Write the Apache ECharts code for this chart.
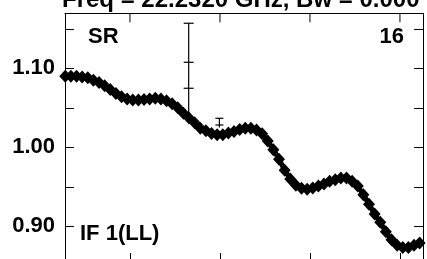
<!DOCTYPE html>
<html>
<head>
<meta charset="utf-8">
<script src="https://cdn.jsdelivr.net/npm/echarts@6.0.0/dist/echarts.min.js"></script>
<style>
  html, body { margin: 0; padding: 0; background: #fff; overflow: hidden; }
  #chart { width: 427px; height: 280px; }
</style>
</head>
<body>
<div id="chart"></div>
<script type="text/javascript">
// channel numbers and amplitude values
var channels = [];
for (var c = 1; c <= 64; c++) channels.push(c);
var amp = [
  1.090, 1.090, 1.090, 1.089, 1.088, 1.085, 1.082, 1.078, 1.073, 1.068,
  1.064, 1.061, 1.060, 1.060, 1.0605, 1.061, 1.062, 1.061, 1.059, 1.055,
  1.050, 1.043, 1.037, 1.031, 1.024, 1.021, 1.0175, 1.016, 1.016, 1.018,
  1.020, 1.0225, 1.024, 1.024, 1.022, 1.017, 1.008, 0.997, 0.985, 0.971,
  0.960, 0.952, 0.948, 0.947, 0.9485, 0.951, 0.9535, 0.957, 0.959, 0.961,
  0.961, 0.957, 0.951, 0.940, 0.928, 0.9155, 0.905, 0.893, 0.883, 0.876,
  0.873, 0.873, 0.876, 0.879
];
// error bars: channel, top, bottom, extra cross marks
var errX = [22.94, 28.4];
var errTop = [1.157, 1.0367];
var errBottom = [1.040, 1.025];
var errCross = [[1.1076, 1.0747], [1.0282]];

var yTicks = [0.90, 0.95, 1.00, 1.05, 1.10, 1.15];
var yLabels = [0.90, 1.00, 1.10];
var xTicks = [12.5, 28.5, 44.5, 60.5];

var myChart = echarts.init(document.getElementById('chart'));

var seriesData = [];
for (var i = 0; i < channels.length; i++) seriesData.push([channels[i], amp[i]]);
var errData = [];
for (var j = 0; j < errX.length; j++) errData.push([errX[j], errBottom[j], errTop[j]]);
var topTickData = xTicks.map(function (v) { return [v]; });

var FONT = 'Liberation Sans, Arial, Helvetica, sans-serif';

function yAx(pos, showLab) {
  return {
    type: 'value', position: pos, min: 0.8548, max: 1.1696,
    axisLine: { show: true, onZero: false, lineStyle: { color: '#000', width: 1 } },
    axisTick: { show: true, inside: true, length: 9, customValues: yTicks, lineStyle: { color: '#000', width: 1 } },
    axisLabel: { show: showLab, customValues: yLabels, margin: 10, color: '#000',
      fontSize: 22, fontWeight: 'bold', fontFamily: FONT,
      formatter: function (v) { return v.toFixed(2); } },
    splitLine: { show: false }
  };
}
function xAx(pos, ticks) {
  return {
    type: 'value', position: pos, min: 0.95, max: 64.6,
    axisLine: { show: true, onZero: false, lineStyle: { color: '#000', width: 1 } },
    axisTick: { show: ticks, inside: true, length: 9, customValues: xTicks, lineStyle: { color: '#000', width: 1 } },
    axisLabel: { show: false },
    splitLine: { show: false }
  };
}

option = {
  animation: false,
  backgroundColor: '#fff',
  grid: { left: 65, right: 4, top: 13.3, height: 248.7 },
  xAxis: [xAx('bottom', true), xAx('top', false)],
  yAxis: [yAx('left', true), yAx('right', false)],
  graphic: [
    { type: 'text', left: 62, top: -12, style: { text: 'Freq = 22.2320 GHz, Bw = 0.000 MHz', fill: '#000', font: 'bold 24px ' + FONT } },
    { type: 'text', x: 88, y: 37, style: { text: 'SR', fill: '#000', font: 'bold 22px ' + FONT, verticalAlign: 'middle' } },
    { type: 'text', x: 404, y: 37, style: { text: '16', fill: '#000', font: 'bold 22px ' + FONT, verticalAlign: 'middle', align: 'right' } },
    { type: 'text', x: 80, y: 233.5, style: { text: 'IF 1(LL)', fill: '#000', font: 'bold 22px ' + FONT, verticalAlign: 'middle' } }
  ],
  series: [
    {
      type: 'line',
      data: seriesData,
      clip: false,
      symbol: 'diamond',
      symbolSize: [12, 13],
      showAllSymbol: true,
      itemStyle: { color: '#000' },
      lineStyle: { color: '#000', width: 5 }
    },
    {
      type: 'custom',
      data: errData,
      renderItem: function (params, api) {
        var x = api.value(0);
        var pTop = api.coord([x, api.value(2)]);
        var pBot = api.coord([x, api.value(1)]);
        var w = params.dataIndex === 0 ? 5 : 4;
        var kids = [
          { type: 'line', shape: { x1: pTop[0], y1: pTop[1], x2: pBot[0], y2: pBot[1] }, style: { stroke: '#000', lineWidth: 1.2 } },
          { type: 'line', shape: { x1: pTop[0] - w, y1: pTop[1], x2: pTop[0] + w, y2: pTop[1] }, style: { stroke: '#000', lineWidth: 1.2 } }
        ];
        var cr = errCross[params.dataIndex];
        for (var k = 0; k < cr.length; k++) {
          var p = api.coord([x, cr[k]]);
          kids.push({ type: 'line', shape: { x1: p[0] - w, y1: p[1], x2: p[0] + w, y2: p[1] }, style: { stroke: '#000', lineWidth: 1.2 } });
        }
        return { type: 'group', children: kids };
      },
      z: 3
    },
    {
      // ticks along the top frame (top axis ticks would not draw)
      type: 'custom',
      data: topTickData,
      silent: true,
      renderItem: function (params, api) {
        var cs = params.coordSys;
        var px = api.coord([api.value(0), 1.0])[0];
        return { type: 'line', shape: { x1: px, y1: cs.y, x2: px, y2: cs.y + 9 }, style: { stroke: '#000', lineWidth: 1 } };
      },
      z: 1
    }
  ]
};
myChart.setOption(option);
</script>
</body>
</html>
